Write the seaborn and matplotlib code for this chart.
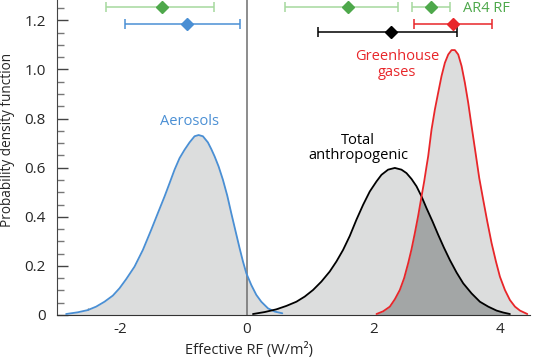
import numpy as np
import pandas as pd
import matplotlib
matplotlib.use("Agg")
import matplotlib.pyplot as plt
import seaborn as sns

# probability density curves
aer_x = [-2.853, -2.669, -2.511, -2.379, -2.247, -2.115, -2.009, -1.904, -1.772, -1.640,
         -1.508, -1.403, -1.297, -1.218, -1.139, -1.060, -0.981, -0.902, -0.823, -0.759,
         -0.691, -0.612, -0.559, -0.506, -0.443, -0.375, -0.306, -0.243, -0.174, -0.111,
         -0.058, -0.005, 0.074, 0.153, 0.232, 0.338, 0.443, 0.564]
aer_y = [0.004, 0.011, 0.020, 0.034, 0.054, 0.079, 0.109, 0.146, 0.197, 0.265,
         0.347, 0.415, 0.483, 0.537, 0.592, 0.639, 0.673, 0.703, 0.728, 0.733,
         0.728, 0.703, 0.676, 0.646, 0.605, 0.551, 0.486, 0.415, 0.340, 0.272,
         0.218, 0.170, 0.122, 0.082, 0.054, 0.027, 0.014, 0.007]

tot_x = [0.100, 0.285, 0.469, 0.628, 0.786, 0.918, 1.050, 1.181, 1.313, 1.419,
         1.524, 1.630, 1.735, 1.841, 1.946, 2.052, 2.131, 2.236, 2.342, 2.447,
         2.526, 2.606, 2.685, 2.764, 2.843, 2.938, 3.027, 3.117, 3.212, 3.318,
         3.423, 3.555, 3.687, 3.819, 3.950, 4.056, 4.161]
tot_y = [0.004, 0.012, 0.023, 0.037, 0.054, 0.075, 0.102, 0.136, 0.177, 0.218,
         0.265, 0.322, 0.388, 0.449, 0.503, 0.544, 0.571, 0.592, 0.599, 0.592,
         0.578, 0.554, 0.524, 0.483, 0.435, 0.381, 0.327, 0.275, 0.224, 0.173,
         0.129, 0.088, 0.054, 0.034, 0.018, 0.010, 0.004]

ghg_x = [2.052, 2.157, 2.263, 2.342, 2.421, 2.489, 2.553, 2.606, 2.658, 2.711,
         2.764, 2.806, 2.843, 2.869, 2.922, 2.975, 3.027, 3.080, 3.133, 3.186,
         3.239, 3.291, 3.344, 3.397, 3.449, 3.502, 3.555, 3.618, 3.676, 3.739,
         3.803, 3.871, 3.940, 4.003, 4.082, 4.161, 4.241, 4.320, 4.436]
ghg_y = [0.004, 0.015, 0.034, 0.064, 0.102, 0.150, 0.211, 0.268, 0.333, 0.404,
         0.483, 0.544, 0.605, 0.646, 0.755, 0.837, 0.905, 0.973, 1.027, 1.061,
         1.079, 1.079, 1.061, 1.014, 0.946, 0.864, 0.769, 0.660, 0.558, 0.469,
         0.381, 0.293, 0.218, 0.156, 0.102, 0.061, 0.034, 0.018, 0.004]

# AR4 best estimates with ranges
ar4_best = [-1.33, 1.60, 2.91]
ar4_low = [-2.22, 0.60, 2.61]
ar4_high = [-0.51, 2.40, 3.22]

# AR5 effective RF: aerosols, greenhouse gases, total anthropogenic
ar5_best = [-0.94, 3.26, 2.28]
ar5_low = [-1.92, 2.65, 1.13]
ar5_high = [-0.11, 3.87, 3.33]

blue = "#4a8fd4"
red = "#e8262a"
green_dark = "#4ea84b"
green_light = "#a6d89e"
fill_light = "#dcdddd"
fill_dark = "#a3a6a6"

sns.set_style("ticks")
plt.rcParams["font.family"] = ["Open Sans", "DejaVu Sans"]

fig = plt.figure(figsize=(5.36, 3.6), dpi=100)
ax = fig.add_axes([0.106, 0.125, 0.883, 0.875])

curves = pd.concat([
    pd.DataFrame({"x": aer_x, "y": aer_y, "src": "Aerosols"}),
    pd.DataFrame({"x": tot_x, "y": tot_y, "src": "Total"}),
    pd.DataFrame({"x": ghg_x, "y": ghg_y, "src": "GHG"}),
])

ax.fill_between(aer_x, aer_y, 0, color=fill_light, lw=0, zorder=1)
tot_fill = ax.fill_between(tot_x, tot_y, 0, color=fill_light, lw=0, zorder=1)
ax.fill_between(ghg_x, ghg_y, 0, color=fill_light, lw=0, zorder=1)
# overlap of total and GHG in darker grey
overlap = ax.fill_between(ghg_x, ghg_y, 0, color=fill_dark, lw=0, zorder=2)
overlap.set_clip_path(tot_fill.get_paths()[0], transform=ax.transData)

sns.lineplot(data=curves, x="x", y="y", hue="src", sort=False, estimator=None,
             palette={"Aerosols": blue, "Total": "black", "GHG": red},
             linewidth=1.3, legend=False, ax=ax, zorder=3)

ax.axvline(0, color="#6e6e6e", lw=1.1, zorder=2.5)

# error bars at the top
ar4_y = [1.256] * 3
ax.errorbar(ar4_best, ar4_y,
            xerr=[np.subtract(ar4_best, ar4_low), np.subtract(ar4_high, ar4_best)],
            fmt="D", color=green_light, ecolor=green_light, mfc=green_dark, mec=green_dark,
            ms=6.5, elinewidth=1.1, capsize=3.5, capthick=1.1, zorder=4)
ar5_y = [1.184, 1.184, 1.152]
for c, b, lo, hi, yy in zip([blue, red, "black"], ar5_best, ar5_low, ar5_high, ar5_y):
    ax.errorbar([b], [yy], xerr=[[b - lo], [hi - b]], fmt="D", color=c, ecolor=c,
                ms=6.5, elinewidth=1.1, capsize=3.5, capthick=1.1, zorder=4)

ax.text(3.42, 1.25, "AR4 RF", color=green_dark, fontsize=10.5, va="center", ha="left")
ax.text(-0.9, 0.79, "Aerosols", color=blue, fontsize=10.5, ha="center", va="center")
ax.text(2.38, 1.02, "Greenhouse\ngases", color=red, fontsize=10.5, ha="center",
        va="center", linespacing=1.05)
ax.text(1.76, 0.68, "Total\nanthropogenic", color="black", fontsize=10.5, ha="center",
        va="center", linespacing=1.05)

ax.set_xlim(-3.0, 4.48)
ax.set_ylim(0, 1.283)
ax.set_xticks([-2, 0, 2, 4])
ax.set_xticklabels(["-2", "0", "2", "4"])
ax.set_xticks(np.arange(-2.5, 4.5, 0.5), minor=True)
ax.set_yticks([0, 0.2, 0.4, 0.6, 0.8, 1.0, 1.2])
ax.set_yticklabels(["0", "0.2", "0.4", "0.6", "0.8", "1.0", "1.2"])
ax.set_yticks(np.arange(0.05, 1.28, 0.05), minor=True)
ax.tick_params(axis="both", which="major", direction="in", length=8, width=1,
               color="#444444", labelsize=11)
ax.tick_params(axis="both", which="minor", direction="in", length=5, width=1,
               color="#777777")
ax.tick_params(axis="y", which="major", pad=8)
ax.tick_params(axis="x", which="major", pad=5)

sns.despine(ax=ax)
ax.spines["left"].set_color("#444444")
ax.spines["bottom"].set_color("#333333")
ax.set_xlabel("Effective RF (W/m²)", fontsize=10.5)
ax.set_ylabel("Probability density function", fontsize=9.8)
ax.xaxis.set_label_coords(0.406, -0.085)
ax.yaxis.set_label_coords(-0.088, 0.556)

fig.savefig("out.png", dpi=100)
